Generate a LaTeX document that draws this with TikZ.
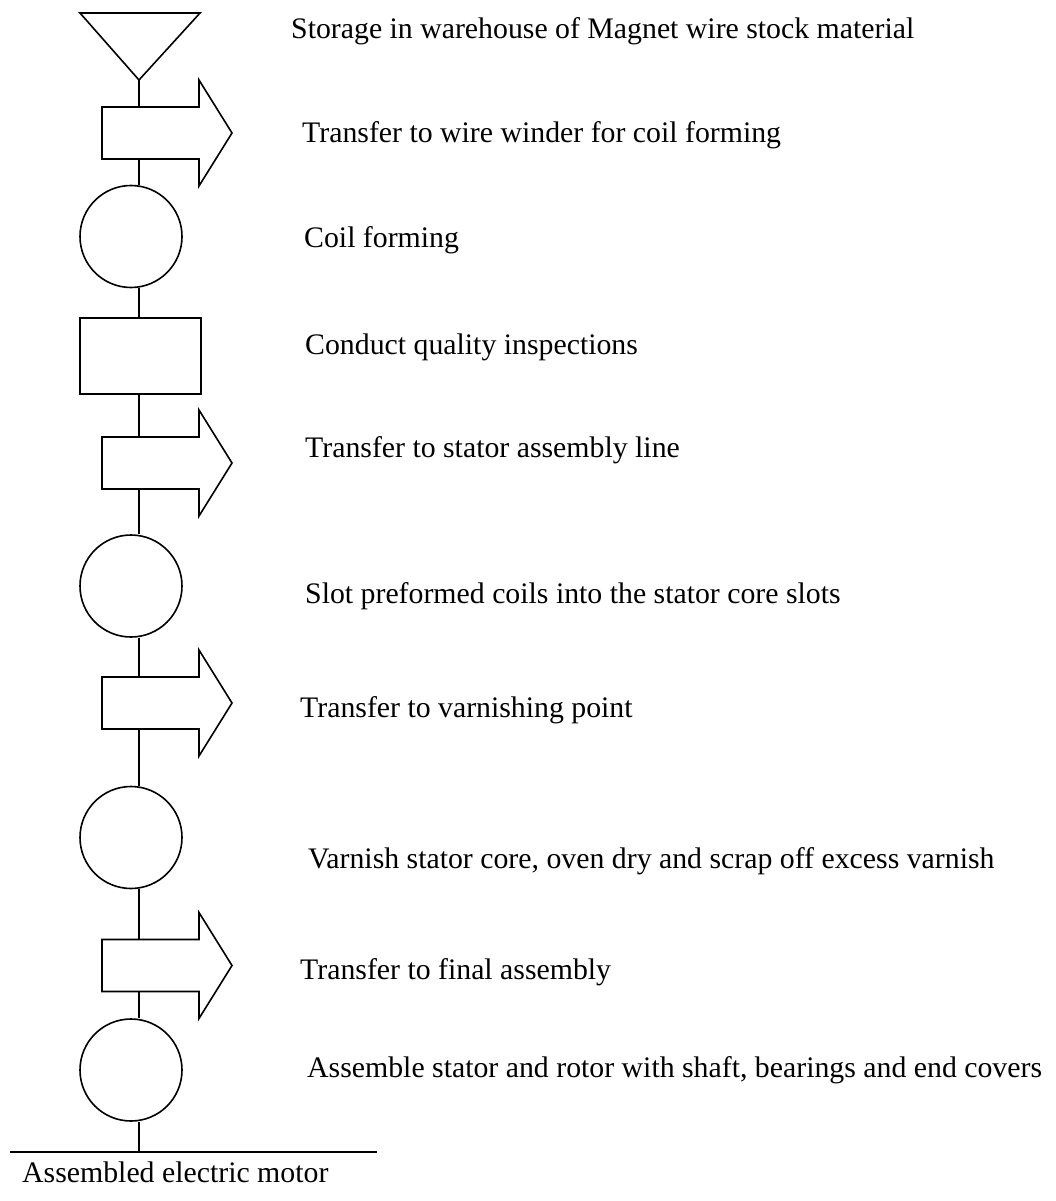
\documentclass[tikz,border=0pt]{standalone}
\usepackage{fontspec}
\setmainfont{Liberation Serif}
\begin{document}
\begin{tikzpicture}[x=1pt,y=-1pt,
  shapeline/.style={draw=black, line width=1.6pt, line join=miter},
  conn/.style={draw=black, line width=1.6pt},
  opcircle/.style={shapeline, circle, minimum size=102pt, inner sep=0pt},
  inspbox/.style={shapeline, rectangle, minimum width=121pt, minimum height=76pt, inner sep=0pt},
  lbl/.style={anchor=base west, inner sep=0pt, font=\fontsize{29.8}{36}\selectfont},
  procarrow/.pic={
    \draw[shapeline] (-37,-26) -- (60,-26) -- (60,-53) -- (93,0) -- (60,53) -- (60,26) -- (-37,26) -- cycle;
    \coordinate (-top) at (0,-26);
    \coordinate (-bot) at (0,26);
  }]
\useasboundingbox (0,0) rectangle (1055,1201);
\coordinate (spine) at (139,0);

% storage triangle
\draw[shapeline] (80,13) -- (200,13) -- (139,80) -- cycle;
\coordinate (tri) at (139,80);

% shapes
\pic (a1) at (139,133) {procarrow};
\node[opcircle] (c1) at (131,236.5) {};
\node[inspbox] (r1) at (140.5,356) {};
\pic (a2) at (139,463) {procarrow};
\node[opcircle] (c2) at (131,586) {};
\pic (a3) at (139,703) {procarrow};
\node[opcircle] (c3) at (131,837.5) {};
\pic (a4) at (139,965.5) {procarrow};
\node[opcircle] (c4) at (131,1070) {};
\coordinate (baseL) at (10,1152);
\coordinate (baseR) at (377,1152);

% connectors
\draw[conn] (tri) -- (a1-top);
\draw[conn] (a1-bot) -- (spine |- c1.north);
\draw[conn] (spine |- c1.south) -- (spine |- r1.north);
\draw[conn] (spine |- r1.south) -- (a2-top);
\draw[conn] (a2-bot) -- (spine |- c2.north);
\draw[conn] (spine |- c2.south) -- (a3-top);
\draw[conn] (a3-bot) -- (spine |- c3.north);
\draw[conn] (spine |- c3.south) -- (a4-top);
\draw[conn] (a4-bot) -- (spine |- c4.north);
\draw[conn] (spine |- c4.south) -- (spine |- baseL);
\draw[conn] (baseL) -- (baseR);

% labels
\node[lbl] (t1) at (291,39) {Storage in warehouse of Magnet wire stock material};
\node[lbl] (t2) at (302,143) {Transfer to wire winder for coil forming};
\node[lbl] (t3) at (304,247) {Coil forming};
\node[lbl] (t4) at (305,354) {Conduct quality inspections};
\node[lbl] (t5) at (305,457) {Transfer to stator assembly line};
\node[lbl] (t6) at (305,603) {Slot preformed coils into the stator core slots};
\node[lbl] (t7) at (300,717) {Transfer to varnishing point};
\node[lbl] (t8) at (308,868) {Varnish stator core, oven dry and scrap off excess varnish};
\node[lbl] (t9) at (300,979) {Transfer to final assembly};
\node[lbl] (t10) at (307,1077) {Assemble stator and rotor with shaft, bearings and end covers};
\node[lbl] (t11) at (22,1182) {Assembled electric motor};
\end{tikzpicture}
\end{document}
